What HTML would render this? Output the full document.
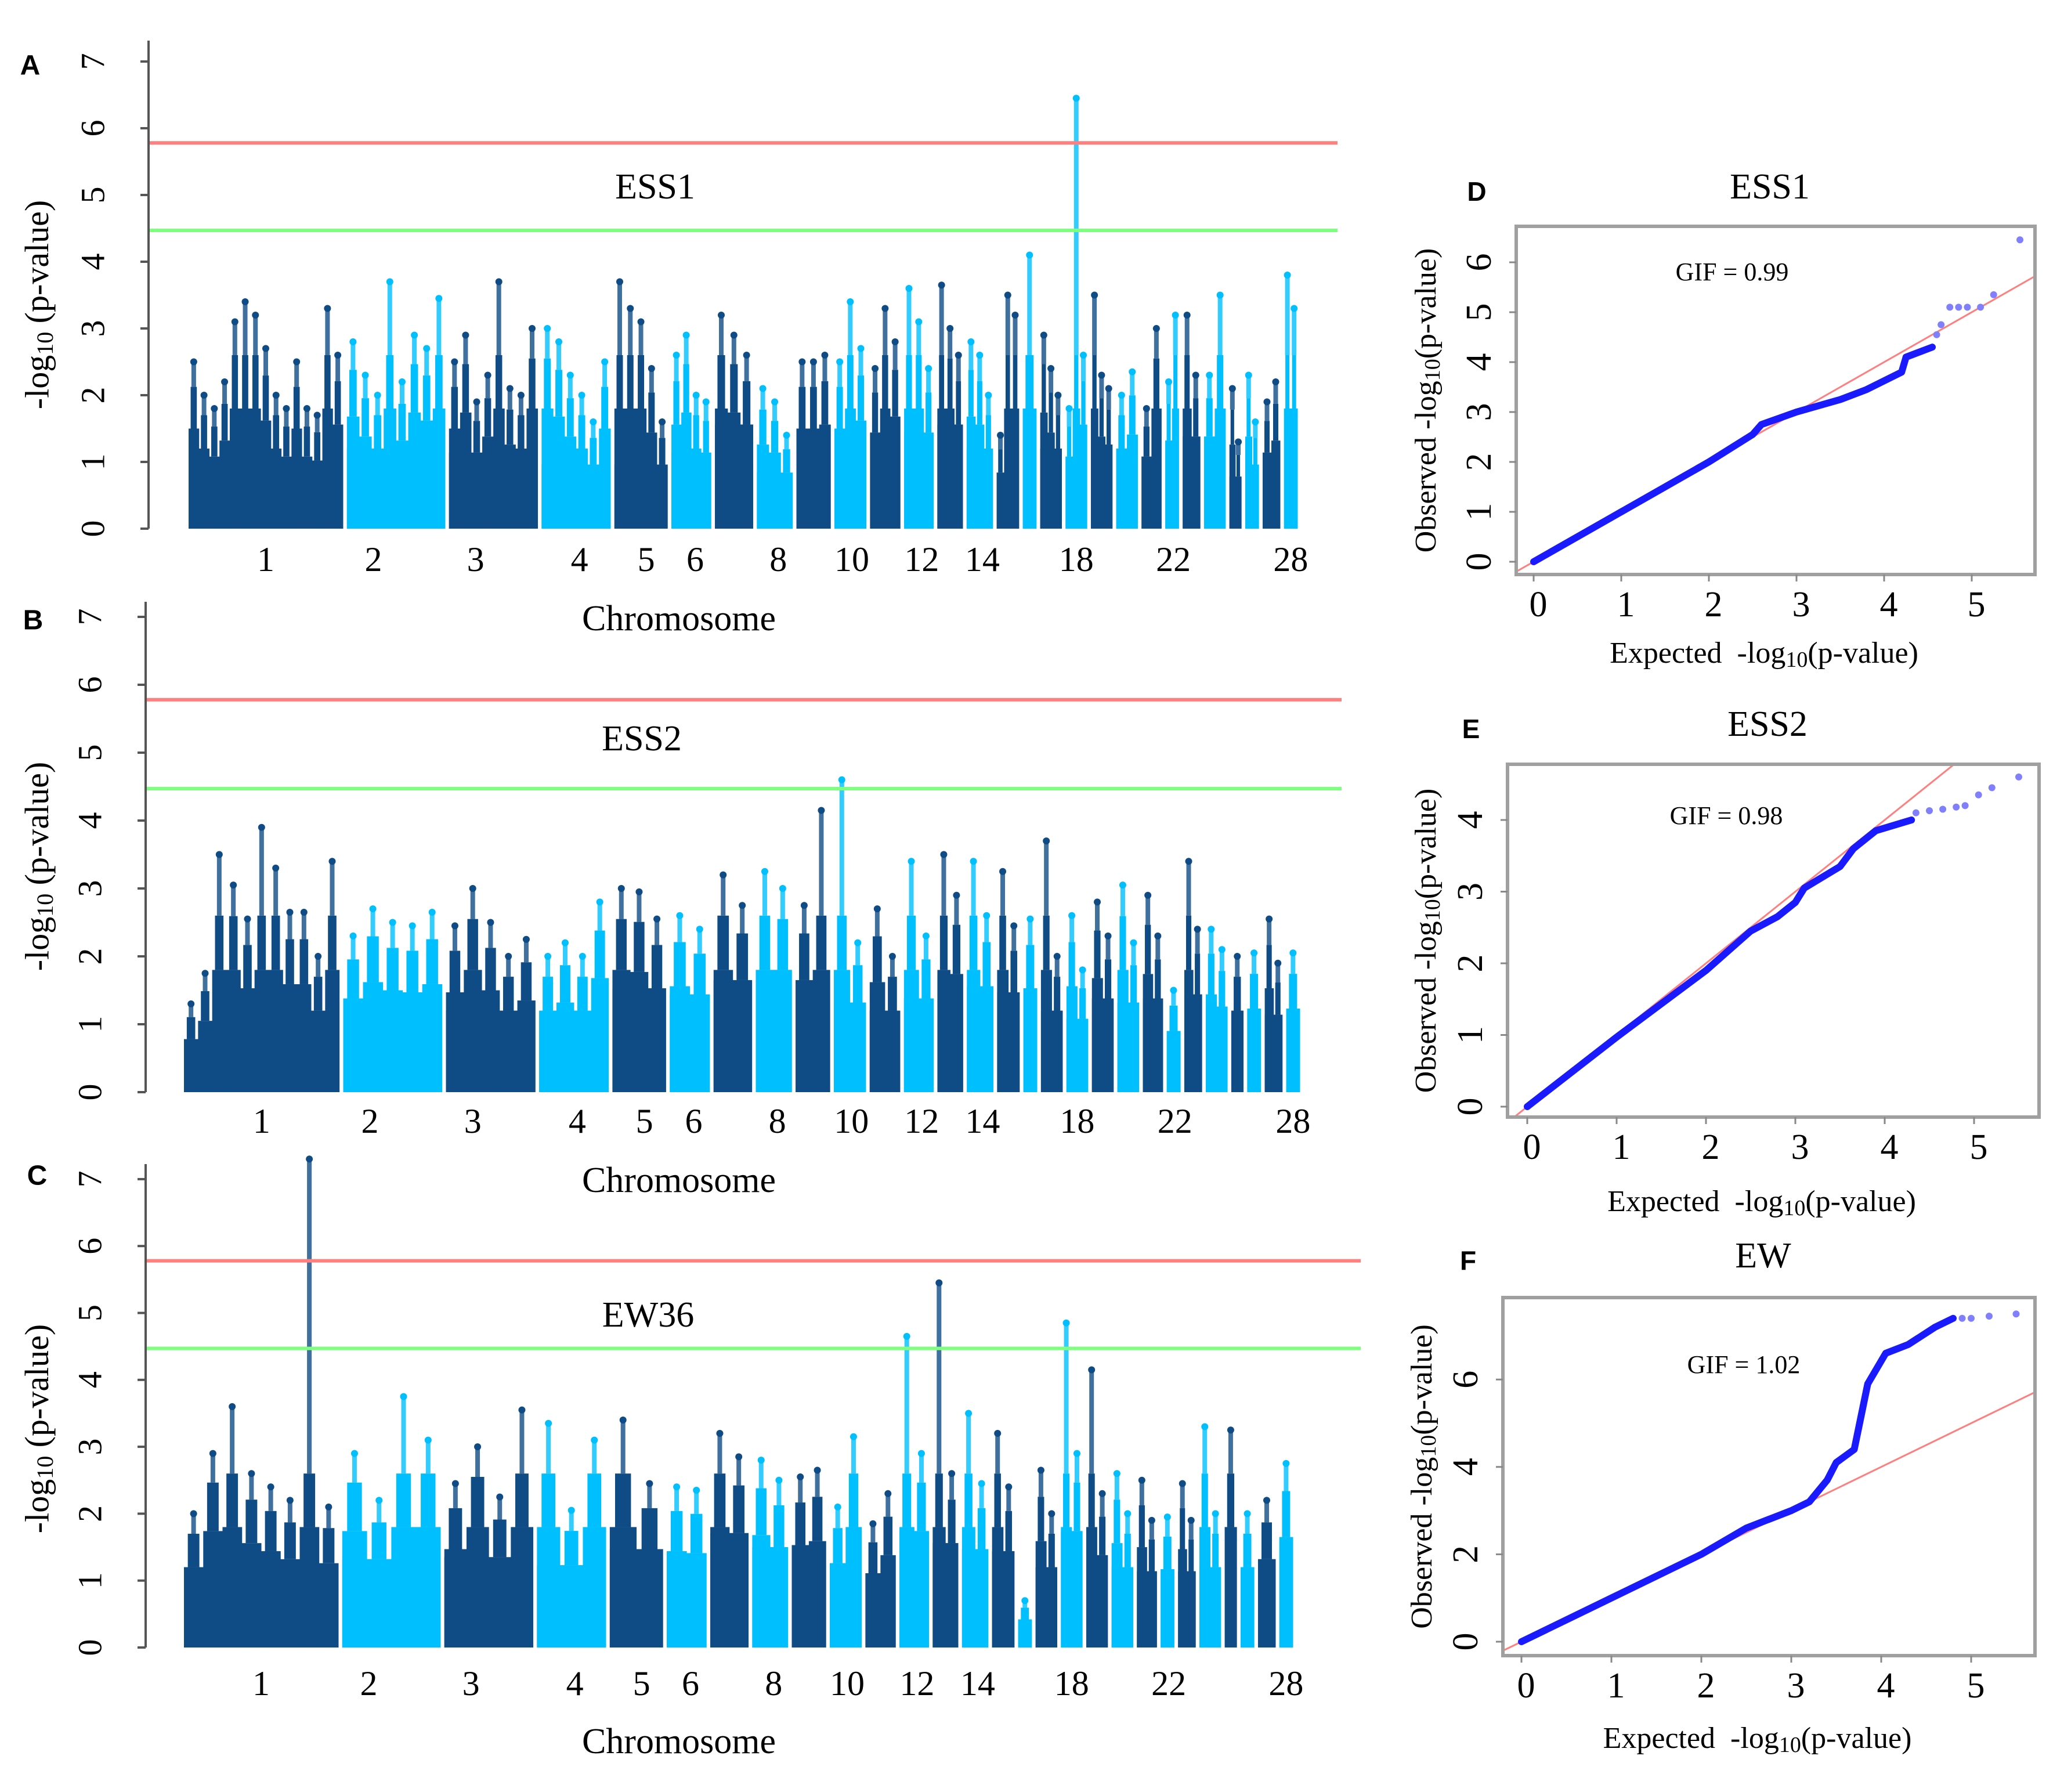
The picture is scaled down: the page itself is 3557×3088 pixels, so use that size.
<!DOCTYPE html>
<html><head><meta charset="utf-8">
<style>
html,body{margin:0;padding:0;background:#fff;}
svg{display:block;font-family:"Liberation Serif",serif;}
</style></head>
<body>
<svg id="fig" width="3557" height="3088" viewBox="0 0 3557 3088" xmlns="http://www.w3.org/2000/svg">
<rect x="0" y="0" width="3557" height="3088" fill="#fff"/>
</svg>
<script>
// ---------- data ----------
const chromWidths = [195,124,112,87,67,50,48,45,43,40,38,37,32,33,28,17,27,27,27,27,25,17,22,27,15,17,22,17];
const chromLabels = [1,2,3,4,5,6,8,10,12,14,18,22,28];
const chromLabelFrac = [0.5,0.27,0.3,0.55,0.6,0.6,0.6,0.55,0.6,0.6,0.5,0.6,0.5];
const ess1Peaks = [
 [2.5,2.0,1.8,2.2,3.1,3.4,3.2,2.7,2.0,1.8,2.5,1.8,1.7,3.3,2.6],
 [2.8,2.3,2.0,3.7,2.2,2.9,2.7,3.45],
 [2.5,2.9,1.9,2.3,3.7,2.1,2.0,3.0],
 [3.0,2.8,2.3,2.0,1.6,2.5],
 [3.7,3.3,3.1,2.4,1.6],
 [2.6,2.9,2.0,1.9],
 [3.2,2.9,2.6],
 [2.1,1.9,1.4],
 [2.5,2.5,2.6],
 [2.5,3.4,2.7],
 [2.4,3.3,2.8],
 [3.6,3.1,2.4],
 [3.65,3.0,2.6],
 [2.8,2.6,2.0],
 [1.4,3.5,3.2],
 [4.1],
 [2.9,2.4,2.0],
 [1.8,6.45,2.6],
 [3.5,2.3,2.1],
 [2.0,2.35],
 [1.8,3.0],
 [2.2,3.2],
 [3.2,2.3],
 [2.3,3.5],
 [2.1,1.3],
 [2.3,1.6],
 [1.9,2.2],
 [3.8,3.3]
];
const ess2Peaks = [
 [1.3,1.75,3.5,3.05,2.55,3.9,3.3,2.65,2.65,2.0,3.4],
 [2.3,2.7,2.5,2.45,2.65],
 [2.45,3.0,2.5,2.0,2.25],
 [2.0,2.2,2.0,2.8],
 [3.0,2.95,2.55],
 [2.6,2.4],
 [3.2,2.75],
 [3.25,3.0],
 [2.75,4.15],
 [4.6,2.2],
 [2.7,2.0],
 [3.4,2.3],
 [3.5,2.9],
 [3.4,2.6],
 [3.25,2.45],
 [2.55],
 [3.7,2.0],
 [2.6,1.8],
 [2.8,2.3],
 [3.05,2.2],
 [2.9,2.3],
 [1.5],
 [3.4,2.4],
 [2.4,2.1],
 [2.0],
 [2.05],
 [2.55,1.9],
 [2.05]
];
const ew36Peaks = [
 [2.0,2.9,3.6,2.6,2.4,2.2,7.3,2.1],
 [2.9,2.2,3.75,3.1],
 [2.45,3.0,2.25,3.55],
 [3.35,2.05,3.1],
 [3.4,2.45],
 [2.4,2.35],
 [3.2,2.85],
 [2.8,2.5],
 [2.55,2.65],
 [2.1,3.15],
 [1.85,2.3],
 [4.65,2.9],
 [5.45,2.6],
 [3.5,2.45],
 [3.2,2.4],
 [0.7],
 [2.65,2.0],
 [4.85,2.9],
 [4.15,2.3],
 [2.6,2.0],
 [2.5,1.9],
 [1.95],
 [2.45,1.9],
 [3.3,2.0],
 [3.25],
 [2.0],
 [2.2],
 [2.75]
];
const qqD_exp = [0,1,2,2.5,2.6,3,3.2,3.5,3.8,4.2,4.25,4.55];
const qqD_obs = [0,1,2,2.55,2.75,3,3.1,3.25,3.45,3.8,4.1,4.3];
const qqD_tailExp = [4.6,4.65,4.75,4.85,4.95,5.1,5.25,5.55];
const qqD_tailObs = [4.55,4.75,5.1,5.1,5.1,5.1,5.35,6.45];
const qqE_exp = [0,1,2,2.5,2.8,3,3.1,3.5,3.65,3.9,4.3];
const qqE_obs = [0,0.97,1.9,2.45,2.65,2.85,3.05,3.35,3.6,3.85,4.0];
const qqE_tailExp = [4.35,4.5,4.65,4.8,4.9,5.05,5.2,5.5];
const qqE_tailObs = [4.1,4.13,4.15,4.18,4.2,4.35,4.45,4.6];
const qqF_exp = [0,1,2,2.5,3,3.2,3.4,3.5,3.7,3.8,3.85,4.05,4.3,4.6,4.8];
const qqF_obs = [0,1,2,2.6,3,3.2,3.7,4.1,4.4,5.4,5.9,6.6,6.8,7.2,7.4];
const qqF_tailExp = [4.9,5.0,5.2,5.5];
const qqF_tailObs = [7.4,7.4,7.45,7.5];
const manhYTicks = [0,1,2,3,4,5,6,7];

// ---------- helpers ----------
const NS = "http://www.w3.org/2000/svg";
const svg = document.getElementById('fig');
function mk(tag, attrs, parent){
  const e = document.createElementNS(NS, tag);
  for (const k in attrs) e.setAttribute(k, attrs[k]);
  (parent||svg).appendChild(e);
  return e;
}
function txt(s, x, y, size, opts, parent){
  opts = opts||{};
  const t = mk('text', {x:x, y:y, 'font-size':size, 'text-anchor':opts.anchor||'middle', 'dominant-baseline':'middle', fill:'#000'}, parent);
  if (opts.family) t.setAttribute('font-family', opts.family);
  if (opts.weight) t.setAttribute('font-weight', opts.weight);
  if (opts.rot) t.setAttribute('transform', 'rotate('+opts.rot+' '+x+' '+y+')');
  t.textContent = s;
  return t;
}
const DARK = '#0f4c86', LIGHT = '#00bfff';

function manhattan(cfg){
  const g = mk('g', {});
  
  
  const y = v => cfg.y0 - v*cfg.unit;
  const gap = 5;
  const total = chromWidths.reduce((a,b)=>a+b,0) + gap*(chromWidths.length-1);
  const sc = (cfg.xEnd - cfg.xStart)/total;
  let cx = cfg.xStart;
  const starts = [], widths = [];
  chromWidths.forEach((w,i)=>{
    const pw = w*sc;
    const col = i%2===0 ? DARK : LIGHT;
    const cg = mk('g', {}, g);
    
    
    const arr = cfg.peaks[i];
    const sw = pw/arr.length;
    // dense base of the chromosome
    const base = Math.min(...arr.map(v=>Math.min(v*0.6,1.8)));
    mk('rect', {x:cx, y:y(base), width:pw, height:y(0)-y(base), fill:col}, cg);
    arr.forEach((v,j)=>{
      const sx = cx + j*sw;
      const s1 = Math.min(v*0.6, 1.8), s2 = Math.min(v*0.85, 2.6);
      mk('rect', {x:sx, y:y(s1), width:sw+0.5, height:y(0)-y(s1), fill:col}, cg);
      mk('rect', {x:sx+sw*0.2, y:y(s2), width:sw*0.6, height:y(s1)-y(s2), fill:col}, cg);
      mk('rect', {x:sx+sw/2-4, y:y(v), width:8, height:y(s2)-y(v), fill:col, opacity:0.8}, cg);
      const c = mk('circle', {cx:sx+sw/2, cy:y(v), r:6, fill:col}, cg);
      
      
    });
    starts[i+1] = cx; widths[i+1] = pw;
    cx += pw + gap*sc;
  });
  // threshold lines
  const rl = mk('line', {x1:cfg.axisX, x2:cfg.lineEnd, y1:y(5.78), y2:y(5.78), stroke:'#ff7f7f', 'stroke-width':6}, g);
  
  
  const gl = mk('line', {x1:cfg.axisX, x2:cfg.lineEnd, y1:y(4.47), y2:y(4.47), stroke:'#7fff7f', 'stroke-width':6}, g);
  
  
  // axis
  const ax = mk('line', {x1:cfg.axisX, x2:cfg.axisX, y1:cfg.axisTop, y2:y(0), stroke:'#555', 'stroke-width':4}, g);
  
  
  manhYTicks.forEach(t=>{
    mk('line', {x1:cfg.axisX-14, x2:cfg.axisX, y1:y(t), y2:y(t), stroke:'#555', 'stroke-width':4}, g);
    const tl = txt(String(t), cfg.axisX-90, y(t), 58, {rot:-90}, g);
    
    
  });
  chromLabels.forEach((c,k)=>{
    const tl = txt(String(c), starts[c] + widths[c]*chromLabelFrac[k], cfg.labelY, 60, {}, g);
    
    
  });
  const yt = mk('text', {x:70, y:cfg.ylabY, 'font-size':58, 'text-anchor':'middle', 'dominant-baseline':'middle', transform:'rotate(-90 70 '+cfg.ylabY+')'}, g);
  
  
  yt.innerHTML = '-log<tspan font-size="40" dy="12">10</tspan><tspan dy="-12"> (p-value)</tspan>';
  const xt = txt('Chromosome', 1170, cfg.chromY, 62, {}, g);
  
  
  const tt = txt(cfg.title, cfg.titleX, cfg.titleY, 62, {}, g);
  
  
  const pl = txt(cfg.letter, cfg.letterX, cfg.letterY, 48, {family:'"Liberation Sans",sans-serif', weight:'bold'}, g);
  
  
}

manhattan({name:'manhattan-ess1', peaks:ess1Peaks, y0:911, unit:115, axisX:256, axisTop:70, xStart:325, xEnd:2236, lineEnd:2305,
  labelY:970, chromY:1072, ylabY:525, title:'ESS1', titleX:1129, titleY:328, letter:'A', letterX:52, letterY:116});
manhattan({name:'manhattan-ess2', peaks:ess2Peaks, y0:1882, unit:117, axisX:251, axisTop:1037, xStart:317, xEnd:2240, lineEnd:2312,
  labelY:1938, chromY:2040, ylabY:1493, title:'ESS2', titleX:1106, titleY:1279, letter:'B', letterX:57, letterY:1072});
manhattan({name:'manhattan-ew36', peaks:ew36Peaks, y0:2839, unit:115.3, axisX:251, axisTop:2006, xStart:317, xEnd:2228, lineEnd:2345,
  labelY:2907, chromY:3007, ylabY:2462, title:'EW36', titleX:1117, titleY:2272, letter:'C', letterX:64, letterY:2029});

function qq(cfg){
  const g = mk('g', {});
  
  
  const X = v => cfg.x0 + v*cfg.ux;
  const Y = v => cfg.y0 - v*cfg.uy;
  const clip = 'clip-'+cfg.name;
  const cp = mk('clipPath', {id:clip}, g);
  mk('rect', {x:cfg.bx1, y:cfg.by1, width:cfg.bx2-cfg.bx1, height:cfg.by2-cfg.by1}, cp);
  const lo = -1, hi = 8;
  const dl = mk('line', {x1:X(lo), y1:Y(lo), x2:X(hi), y2:Y(hi), stroke:'#ff7f7f', 'stroke-width':3, 'clip-path':'url(#'+clip+')'}, g);
  
  
  const pts = cfg.ex.map((e,i)=>X(e)+','+Y(cfg.ob[i])).join(' ');
  const pl = mk('polyline', {points:pts, fill:'none', stroke:'#1a1aff', 'stroke-width':12, 'stroke-linejoin':'round', 'stroke-linecap':'round'}, g);
  
  
  cfg.tx.forEach((e,i)=>{
    const c = mk('circle', {cx:X(e), cy:Y(cfg.to[i]), r:6, fill:'#8080ff'}, g);
    
    
  });
  const box = mk('rect', {x:cfg.bx1, y:cfg.by1, width:cfg.bx2-cfg.bx1, height:cfg.by2-cfg.by1, fill:'none', stroke:'#a0a0a0', 'stroke-width':6}, g);
  
  
  for (let t=0;t<=5;t++){
    mk('line', {x1:X(t), x2:X(t), y1:cfg.by2, y2:cfg.by2+12, stroke:'#888', 'stroke-width':3}, g);
    const tl = txt(String(t), X(t)+8, cfg.by2+58, 62, {}, g);
    
    
  }
  cfg.yticks.forEach(t=>{
    mk('line', {x1:cfg.bx1-12, x2:cfg.bx1, y1:Y(t), y2:Y(t), stroke:'#888', 'stroke-width':3}, g);
    const tl = txt(String(t), cfg.bx1-58, Y(t), 62, {rot:-90}, g);
    
    
  });
  const xt = mk('text', {x:(cfg.bx1+cfg.bx2)/2-20, y:cfg.xlabY, 'font-size':52, 'text-anchor':'middle', 'dominant-baseline':'middle'}, g);
  
  
  xt.innerHTML = 'Expected &#160;-log<tspan font-size="38" dy="10">10</tspan><tspan dy="-10">(p-value)</tspan>';
  const yc = (cfg.by1+cfg.by2)/2;
  const yt = mk('text', {x:cfg.ylabX, y:yc, 'font-size':52, 'text-anchor':'middle', 'dominant-baseline':'middle', transform:'rotate(-90 '+cfg.ylabX+' '+yc+')'}, g);
  
  
  yt.innerHTML = 'Observed -log<tspan font-size="38" dy="10">10</tspan><tspan dy="-10">(p-value)</tspan>';
  const gt = txt(cfg.gif, cfg.gifX, cfg.gifY, 44, {}, g);
  
  
  const tt = txt(cfg.title, (cfg.bx1+cfg.bx2)/2-10, cfg.titleY, 62, {}, g);
  
  
  const lt = txt(cfg.letter, cfg.letterX, cfg.titleY+6, 46, {family:'"Liberation Sans",sans-serif', weight:'bold'}, g);
  
  
}

qq({name:'qq-ess1', ex:qqD_exp, ob:qqD_obs, tx:qqD_tailExp, to:qqD_tailObs, x0:2643, ux:151, y0:968, uy:86,
  bx1:2613, bx2:3507, by1:390, by2:990, yticks:[0,1,2,3,4,5,6], xlabY:1130, ylabX:2462, gif:'GIF = 0.99', gifX:2985, gifY:473,
  title:'ESS1', titleY:328, letter:'D', letterX:2545});
qq({name:'qq-ess2', ex:qqE_exp, ob:qqE_obs, tx:qqE_tailExp, to:qqE_tailObs, x0:2632, ux:154, y0:1907, uy:123.5,
  bx1:2598, bx2:3514, by1:1317, by2:1925, yticks:[0,1,2,3,4], xlabY:2075, ylabX:2462, gif:'GIF = 0.98', gifX:2975, gifY:1410,
  title:'ESS2', titleY:1254, letter:'E', letterX:2535});
qq({name:'qq-ew', ex:qqF_exp, ob:qqF_obs, tx:qqF_tailExp, to:qqF_tailObs, x0:2622, ux:155, y0:2829, uy:75.3,
  bx1:2590, bx2:3507, by1:2236, by2:2853, yticks:[0,2,4,6], xlabY:3000, ylabX:2455, gif:'GIF = 1.02', gifX:3005, gifY:2356,
  title:'EW', titleY:2170, letter:'F', letterX:2530});
</script>
</body></html>
